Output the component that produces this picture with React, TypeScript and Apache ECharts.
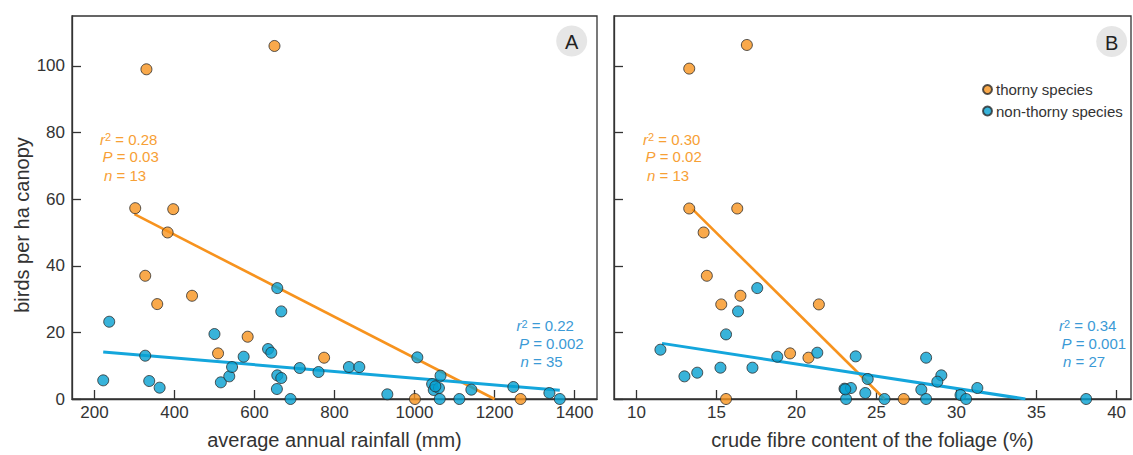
import React, { useEffect, useRef } from "react";
import * as echarts from "echarts";

const FONT = "'Liberation Sans', Arial, Helvetica, sans-serif";

const seriesNames = ["thorny species", "non-thorny species"];
const panelLetters = ["A", "B"];
const axisTitles = ["average annual rainfall (mm)", "crude fibre content of the foliage (%)"];
const yTitle = "birds per ha canopy";

const yTicks = [0, 20, 40, 60, 80, 100];
const rainfallTicks = [200, 400, 600, 800, 1000, 1200, 1400];
const fibreTicks = [10, 15, 20, 25, 30, 35, 40];

// Panel A: rainfall (mm) vs birds per ha canopy
const thornyRainfall: number[][] = [
  [330, 99], [650, 106], [302, 57.3], [397, 57], [383, 50], [327, 37], [444, 31],
  [357, 28.5], [583, 18.7], [509, 13.7], [774, 12.4], [1001, 0], [1265, 0],
];
const nonThornyRainfall: number[][] = [
  [237, 23.2], [222, 5.6], [327, 13], [337, 5.4], [363, 3.4], [500, 19.5], [516, 5],
  [537, 6.8], [544, 9.6], [573, 12.7], [634, 15], [642, 13.9], [657, 33.3], [667, 26.3],
  [657, 7.1], [667, 6.3], [656, 3], [690, 0], [713, 9.3], [760, 8.1], [836, 9.6],
  [862, 9.6], [932, 1.4], [1007, 12.5], [1065, 7], [1044, 4.5], [1048, 2.7], [1061, 3.3],
  [1063, 0], [1112, 0], [1142, 2.8], [1247, 3.6], [1337, 1.8], [1363, 0], [1052, 3.8],
];
const thornyRainfallFit: number[][] = [[300, 55.5], [1200, 0]];
const nonThornyRainfallFit: number[][] = [[222, 14.1], [1363, 2.6]];

// Panel B: crude fibre (%) vs birds per ha canopy
const thornyFibre: number[][] = [
  [13.3, 99.2], [16.9, 106.3], [13.3, 57.2], [16.3, 57.2], [14.2, 50], [14.4, 37],
  [16.5, 31], [15.3, 28.4], [21.4, 28.4], [19.6, 13.7], [20.75, 12.4], [15.6, 0], [26.7, 0],
];
const nonThornyFibre: number[][] = [
  [11.5, 14.8], [13, 6.8], [13.8, 7.9], [15.25, 9.4], [15.6, 19.4], [16.35, 26.3],
  [17.55, 33.3], [17.25, 9.4], [18.8, 12.7], [21.3, 13.9], [23.7, 12.8], [24.45, 6],
  [23, 3.1], [23.4, 3.3], [24.3, 1.8], [23.1, 0], [25.5, 0], [28.1, 12.4], [29.05, 7.1],
  [28.8, 5.2], [27.8, 2.8], [28.1, 0], [30.25, 1.2], [30.6, 0], [31.3, 3.3], [38.1, 0],
  [23.05, 2.9],
];
const thornyFibreFit: number[][] = [[13.5, 57], [25.5, 0]];
const nonThornyFibreFit: number[][] = [[11.6, 16.7], [34.3, 0]];

// regression statistics
const statsThornyA = ["0.28", "0.03", "13"];
const statsNonThornyA = ["0.22", "0.002", "35"];
const statsThornyB = ["0.30", "0.02", "13"];
const statsNonThornyB = ["0.34", "0.001", "27"];

const ORANGE = "#f7931e";
const BLUE = "#06a0d1";
const ORANGE_LINE = "#f7931e";
const BLUE_LINE = "#14a6dc";
const ORANGE_TEXT = "#f7a035";
const BLUE_TEXT = "#3b9ad6";
const INK = "#333333";

function statBlock(values: string[], x: number, y: number, color: string) {
  const lines = [
    `{i|r}{s|2}{t| = ${values[0]}}`,
    `{i|P}{t| = ${values[1]}}`,
    `{i|n}{t| = ${values[2]}}`,
  ];
  return lines.map((t, k) => ({
    type: "text",
    x: x + [0, 2.5, 4][k],
    y: y + k * 18.6,
    z: 20,
    style: {
      text: t,
      fill: color,
      fontSize: 15,
      fontFamily: FONT,
      verticalAlign: "middle",
      align: "left",
      rich: {
        i: { fontStyle: "italic", fontSize: 15, fontFamily: FONT, fill: color, height: 17, verticalAlign: "bottom" },
        s: { fontSize: 11, fontFamily: FONT, fill: color, height: 17, verticalAlign: "top", padding: [0, 0, 2, 0] },
        t: { fontSize: 15, fontFamily: FONT, fill: color, height: 17, verticalAlign: "bottom" },
      },
    },
  }));
}

export default function App() {
  const ref = useRef<HTMLDivElement>(null);
  useEffect(() => {
    document.body.style.margin = "0";
    const chart = echarts.init(ref.current!, null, { renderer: "svg" });
    const axisCommon = {
      axisLine: { show: true, lineStyle: { color: INK, width: 1.3 } },
      axisTick: { show: true, inside: true, length: 9, lineStyle: { color: INK, width: 1.3 } },
      splitLine: { show: false },
    };
    const plain = (v: number) => String(v);
    const scatterStyle = (color: string) => ({
      color,
      borderColor: "#2a2a2a",
      borderWidth: 1,
    });
    const option: any = {
      animation: false,
      textStyle: { fontFamily: FONT },
      grid: [
        { left: 72, top: 16, width: 525, height: 385.5, show: true, borderColor: INK, borderWidth: 1.3, backgroundColor: "transparent" },
        { left: 614, top: 16, width: 517, height: 385.5, show: true, borderColor: INK, borderWidth: 1.3, backgroundColor: "transparent" },
      ],
      xAxis: [
        {
          gridIndex: 0, type: "value", min: 144, max: 1456,
          ...axisCommon,
          axisTick: { ...axisCommon.axisTick, customValues: rainfallTicks },
          axisLabel: { customValues: rainfallTicks, formatter: plain, color: INK, fontSize: 17, fontFamily: FONT, margin: 5 },
          name: axisTitles[0], nameLocation: "middle", nameGap: 31,
          nameTextStyle: { fontSize: 20, color: INK, fontFamily: FONT },
        },
        {
          gridIndex: 1, type: "value", min: 8.6, max: 40.9,
          ...axisCommon,
          axisTick: { ...axisCommon.axisTick, customValues: fibreTicks },
          axisLabel: { customValues: fibreTicks, formatter: plain, color: INK, fontSize: 17, fontFamily: FONT, margin: 5 },
          name: axisTitles[1], nameLocation: "middle", nameGap: 31,
          nameTextStyle: { fontSize: 20, color: INK, fontFamily: FONT },
        },
      ],
      yAxis: [
        {
          gridIndex: 0, type: "value", min: 0, max: 115,
          ...axisCommon,
          axisTick: { ...axisCommon.axisTick, customValues: yTicks },
          axisLabel: { customValues: yTicks, formatter: plain, color: INK, fontSize: 17, fontFamily: FONT, margin: 7 },
        },
        {
          gridIndex: 1, type: "value", min: 0, max: 115,
          ...axisCommon,
          axisTick: { ...axisCommon.axisTick, customValues: yTicks },
          axisLabel: { show: false },
        },
      ],
      legend: {
        data: seriesNames,
        orient: "vertical",
        left: 977,
        top: 77,
        itemWidth: 9,
        itemHeight: 9,
        itemGap: 6.5,
        icon: "circle",
        textStyle: { fontSize: 15, color: INK, fontFamily: FONT, padding: [0, 0, 0, -1] },
      },
      series: [
        { type: "line", xAxisIndex: 0, yAxisIndex: 0, data: thornyRainfallFit, symbol: "none", lineStyle: { color: ORANGE_LINE, width: 2.6 }, z: 2, silent: true },
        { type: "line", xAxisIndex: 0, yAxisIndex: 0, data: nonThornyRainfallFit, symbol: "none", lineStyle: { color: BLUE_LINE, width: 3 }, z: 2, silent: true },
        { type: "line", xAxisIndex: 1, yAxisIndex: 1, data: thornyFibreFit, symbol: "none", lineStyle: { color: ORANGE_LINE, width: 2.6 }, z: 2, silent: true },
        { type: "line", xAxisIndex: 1, yAxisIndex: 1, data: nonThornyFibreFit, symbol: "none", lineStyle: { color: BLUE_LINE, width: 3 }, z: 2, silent: true },
        { name: seriesNames[0], type: "scatter", xAxisIndex: 0, yAxisIndex: 0, data: thornyRainfall, symbolSize: 11, itemStyle: scatterStyle(ORANGE), z: 5 },
        { name: seriesNames[1], type: "scatter", xAxisIndex: 0, yAxisIndex: 0, data: nonThornyRainfall, symbolSize: 11, itemStyle: scatterStyle(BLUE), z: 5 },
        { name: seriesNames[0], type: "scatter", xAxisIndex: 1, yAxisIndex: 1, data: thornyFibre, symbolSize: 11, itemStyle: scatterStyle(ORANGE), z: 5 },
        { name: seriesNames[1], type: "scatter", xAxisIndex: 1, yAxisIndex: 1, data: nonThornyFibre, symbolSize: 11, itemStyle: scatterStyle(BLUE), z: 5 },
      ],
      graphic: [
        {
          type: "text", x: 22, y: 225, rotation: Math.PI / 2,
          style: { text: yTitle, fill: INK, fontSize: 20, fontFamily: FONT, align: "center", verticalAlign: "middle" },
        },
        { type: "circle", shape: { cx: 571.7, cy: 41, r: 15.5 }, style: { fill: "#e6e6e6" } },
        { type: "text", x: 571.7, y: 42, style: { text: panelLetters[0], fill: "#222", fontSize: 20, fontFamily: FONT, align: "center", verticalAlign: "middle" } },
        { type: "circle", shape: { cx: 1111.7, cy: 41.5, r: 15.5 }, style: { fill: "#e6e6e6" } },
        { type: "text", x: 1111.7, y: 42.5, style: { text: panelLetters[1], fill: "#222", fontSize: 20, fontFamily: FONT, align: "center", verticalAlign: "middle" } },
        ...statBlock(statsThornyA, 100, 138, ORANGE_TEXT),
        ...statBlock(statsNonThornyA, 516.5, 324.5, BLUE_TEXT),
        ...statBlock(statsThornyB, 643, 138, ORANGE_TEXT),
        ...statBlock(statsNonThornyB, 1059, 324.5, BLUE_TEXT),
      ],
    };
    chart.setOption(option);
    return () => chart.dispose();
  }, []);
  return <div ref={ref} style={{ width: 1133, height: 455 }} />;
}
